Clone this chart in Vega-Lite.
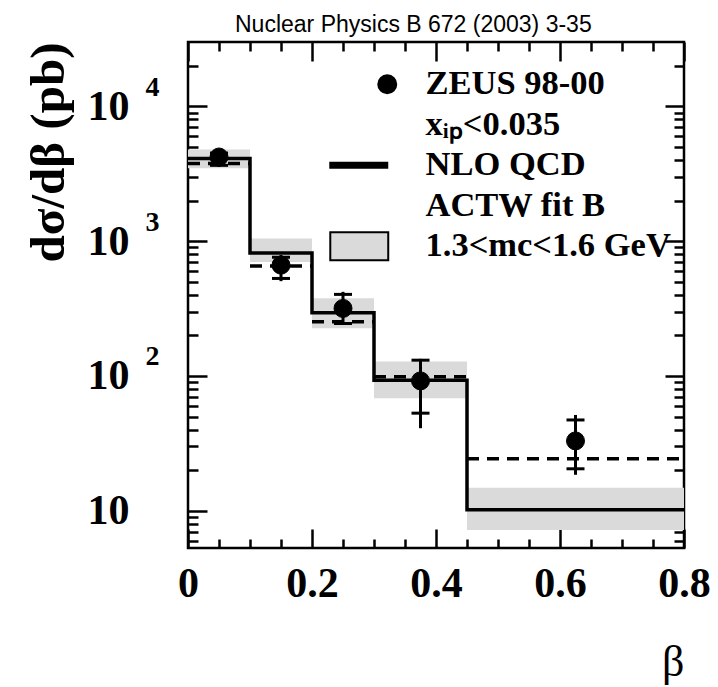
{
  "$schema": "https://vega.github.io/schema/vega-lite/v6.json",
  "width": 496,
  "height": 506,
  "autosize": "none",
  "padding": {"left": 188, "top": 42, "right": 34, "bottom": 139},
  "background": "white",
  "title": {"text": "Nuclear Physics B 672 (2003) 3-35", "font": "Liberation Sans", "fontSize": 23, "fontWeight": "normal", "color": "black", "anchor": "start", "frame": "group", "dx": 47, "baseline": "alphabetic", "offset": -22},
  "datasets": {
    "bins": [
      {"lo": 0, "hi": 0.1, "nlo": 4100, "blo": 3475, "bhi": 4780, "dash": 3770},
      {"lo": 0.1, "hi": 0.2, "nlo": 818, "blo": 700, "bhi": 1048, "dash": 653},
      {"lo": 0.2, "hi": 0.3, "nlo": 294, "blo": 226, "bhi": 377, "dash": 252},
      {"lo": 0.3, "hi": 0.45, "nlo": 93, "blo": 68.4, "bhi": 128, "dash": 98.9},
      {"lo": 0.45, "hi": 0.8, "nlo": 10.2, "blo": 7.2, "bhi": 14.8, "dash": 24.3}
    ],
    "step": [
      {"x": 0, "y": 4100},
      {"x": 0.1, "y": 818},
      {"x": 0.2, "y": 294},
      {"x": 0.3, "y": 93},
      {"x": 0.45, "y": 10.2},
      {"x": 0.8, "y": 10.2}
    ],
    "pts": [
      {"b": 0.05, "y": 4210, "slo": 3650, "shi": 4500, "tlo": 3550, "thi": 4600, "series": "ZEUS 98-00"},
      {"b": 0.15, "y": 664, "slo": 529, "shi": 760, "tlo": 505, "thi": 790, "series": "ZEUS 98-00"},
      {"b": 0.25, "y": 317, "slo": 245, "shi": 403, "tlo": 239, "thi": 421, "series": "ZEUS 98-00"},
      {"b": 0.375, "y": 92, "slo": 53, "shi": 131, "tlo": 41, "thi": 134, "series": "ZEUS 98-00"},
      {"b": 0.625, "y": 33, "slo": 20.5, "shi": 47.2, "tlo": 18.5, "thi": 51.4, "series": "ZEUS 98-00"}
    ]
  },
  "layer": [
    {
      "data": {"name": "bins"},
      "mark": {"type": "rect", "color": "#dadada"},
      "encoding": {
        "x": {"field": "lo", "type": "quantitative", "scale": {"domain": [0, 0.8], "nice": false, "zero": false},
          "axis": {
            "orient": "bottom",
            "values": [0, 0.05, 0.1, 0.15, 0.2, 0.25, 0.3, 0.35, 0.4, 0.45, 0.5, 0.55, 0.6, 0.65, 0.7, 0.75, 0.8],
            "domain": false, "grid": false,
            "tickSize": {"condition": {"test": "abs(datum.value*5 - round(datum.value*5)) < 0.001", "value": -19}, "value": -9},
            "tickWidth": 2.5, "tickColor": "black",
            "labelExpr": "abs(datum.value*5 - round(datum.value*5)) < 0.001 ? (datum.value < 0.001 ? '0' : format(datum.value, '.1f')) : ''",
            "labelFont": "Liberation Serif", "labelFontWeight": "bold", "labelFontSize": 42, "labelColor": "black",
            "labelBaseline": "alphabetic", "labelPadding": 67, "labelFlush": false, "labelOverlap": false, "labelBound": false,
            "title": "β", "titleFont": "Liberation Serif", "titleFontWeight": "normal", "titleFontSize": 44, "titleColor": "black",
            "titleX": 496, "titleY": 127, "titleAlign": "right", "titleBaseline": "alphabetic", "titleAnchor": "end"
          }},
        "x2": {"field": "hi"},
        "y": {"field": "blo", "type": "quantitative", "scale": {"type": "log", "domain": [5.3, 30000], "nice": false},
          "axis": {
            "orient": "left",
            "values": [6,7,8,9,10,20,30,40,50,60,70,80,90,100,200,300,400,500,600,700,800,900,1000,2000,3000,4000,5000,6000,7000,8000,9000,10000,20000],
            "domain": false, "grid": false,
            "tickSize": {"condition": {"test": "indexof([10,100,1000,10000], datum.value) >= 0", "value": -19}, "value": -10},
            "tickWidth": 2.5, "tickColor": "black",
            "labelExpr": "indexof([10,100,1000,10000], datum.value) >= 0 ? '10' : ''",
            "labelFont": "Liberation Serif", "labelFontWeight": "bold", "labelFontSize": 42, "labelColor": "black",
            "labelAlign": "left", "labelBaseline": "middle", "labelPadding": 120, "labelOverlap": false, "labelBound": false, "labelFlush": false,
            "title": "dσ/dβ (pb)", "titleFont": "Liberation Serif", "titleFontWeight": "bold", "titleFontSize": 49, "titleColor": "black",
            "titleX": -140, "titleY": 0, "titleAlign": "right", "titleBaseline": "middle", "titleAngle": -90
          }},
        "y2": {"field": "bhi"}
      }
    },
    {
      "data": {"name": "bins"},
      "mark": {"type": "rule", "color": "black", "strokeWidth": 3.5, "strokeDash": [12, 8]},
      "encoding": {
        "x": {"field": "lo", "type": "quantitative", "scale": {"domain": [0, 0.8], "nice": false, "zero": false},
          "axis": {
            "orient": "top",
            "values": [0, 0.05, 0.1, 0.15, 0.2, 0.25, 0.3, 0.35, 0.4, 0.45, 0.5, 0.55, 0.6, 0.65, 0.7, 0.75, 0.8],
            "domain": false, "grid": false, "labels": false, "title": null,
            "tickSize": {"condition": {"test": "abs(datum.value*5 - round(datum.value*5)) < 0.001", "value": -19}, "value": -9},
            "tickWidth": 2.5, "tickColor": "black"
          }},
        "x2": {"field": "hi"},
        "y": {"field": "dash", "type": "quantitative", "scale": {"type": "log", "domain": [5.3, 30000], "nice": false},
          "axis": {
            "orient": "right",
            "values": [6,7,8,9,10,20,30,40,50,60,70,80,90,100,200,300,400,500,600,700,800,900,1000,2000,3000,4000,5000,6000,7000,8000,9000,10000,20000],
            "domain": false, "grid": false, "title": null,
            "tickSize": {"condition": {"test": "indexof([10,100,1000,10000], datum.value) >= 0", "value": -19}, "value": -10},
            "tickWidth": 2.5, "tickColor": "black",
            "labelExpr": "datum.value == 10000 ? '4' : datum.value == 1000 ? '3' : datum.value == 100 ? '2' : ''",
            "labelFont": "Liberation Serif", "labelFontWeight": "bold", "labelFontSize": 28, "labelColor": "black",
            "labelAlign": "left", "labelBaseline": "middle", "labelPadding": -520, "labelOffset": -19,
            "labelOverlap": false, "labelBound": false, "labelFlush": false
          }}
      }
    },
    {
      "data": {"name": "step"},
      "mark": {"type": "line", "interpolate": "step-after", "color": "black", "strokeWidth": 3.5},
      "encoding": {
        "x": {"field": "x", "type": "quantitative", "scale": {"domain": [0, 0.8], "nice": false, "zero": false}, "axis": null},
        "y": {"field": "y", "type": "quantitative", "scale": {"type": "log", "domain": [5.3, 30000], "nice": false}, "axis": null}
      }
    },
    {
      "data": {"name": "pts"},
      "mark": {"type": "rule", "color": "black", "strokeWidth": 3},
      "encoding": {
        "x": {"field": "b", "type": "quantitative", "scale": {"domain": [0, 0.8], "nice": false, "zero": false}, "axis": null},
        "y": {"field": "tlo", "type": "quantitative", "scale": {"type": "log", "domain": [5.3, 30000], "nice": false}, "axis": null},
        "y2": {"field": "thi"}
      }
    },
    {
      "data": {"name": "pts"},
      "mark": {"type": "tick", "orient": "horizontal", "color": "black", "size": 18, "thickness": 3, "opacity": 1},
      "encoding": {
        "x": {"field": "b", "type": "quantitative", "scale": {"domain": [0, 0.8], "nice": false, "zero": false}, "axis": null},
        "y": {"field": "slo", "type": "quantitative", "scale": {"type": "log", "domain": [5.3, 30000], "nice": false}, "axis": null}
      }
    },
    {
      "data": {"name": "pts"},
      "mark": {"type": "tick", "orient": "horizontal", "color": "black", "size": 18, "thickness": 3, "opacity": 1},
      "encoding": {
        "x": {"field": "b", "type": "quantitative", "scale": {"domain": [0, 0.8], "nice": false, "zero": false}, "axis": null},
        "y": {"field": "shi", "type": "quantitative", "scale": {"type": "log", "domain": [5.3, 30000], "nice": false}, "axis": null}
      }
    },
    {
      "data": {"name": "pts"},
      "mark": {"type": "point", "filled": true, "size": 324, "opacity": 1, "strokeWidth": 1},
      "encoding": {
        "x": {"field": "b", "type": "quantitative", "scale": {"domain": [0, 0.8], "nice": false, "zero": false}, "axis": null},
        "y": {"field": "y", "type": "quantitative", "scale": {"type": "log", "domain": [5.3, 30000], "nice": false}, "axis": null},
        "shape": {"field": "series", "type": "nominal",
          "scale": {"domain": ["ZEUS 98-00", "xᵢₚ<0.035", "NLO QCD", "ACTW fit B", "1.3<mc<1.6 GeV"],
                    "range": ["circle", "M0,0L0,0", "M-6.33,-0.28H0V0.28H-6.33Z", "M0,0L0,0", "M-6.33,-1.55H0.11V1.55H-6.33Z"]},
          "legend": {"orient": "none", "legendX": 182, "legendY": 25, "title": null, "padding": 0,
            "labelFont": "Liberation Serif", "labelFontWeight": "bold", "labelFontSize": 34.5, "labelColor": "black",
            "labelOffset": 21, "labelLimit": 400, "rowPadding": 5.5, "symbolSize": 324, "symbolStrokeWidth": 2, "symbolOpacity": 1}},
        "fill": {"field": "series", "type": "nominal",
          "scale": {"domain": ["ZEUS 98-00", "xᵢₚ<0.035", "NLO QCD", "ACTW fit B", "1.3<mc<1.6 GeV"],
                    "range": ["black", "transparent", "black", "transparent", "#dadada"]},
          "legend": {"orient": "none", "legendX": 182, "legendY": 25, "title": null, "padding": 0,
            "labelFont": "Liberation Serif", "labelFontWeight": "bold", "labelFontSize": 34.5, "labelColor": "black",
            "labelOffset": 21, "labelLimit": 400, "rowPadding": 5.5, "symbolSize": 324, "symbolStrokeWidth": 2, "symbolOpacity": 1}},
        "stroke": {"field": "series", "type": "nominal",
          "scale": {"domain": ["ZEUS 98-00", "xᵢₚ<0.035", "NLO QCD", "ACTW fit B", "1.3<mc<1.6 GeV"],
                    "range": ["black", "transparent", "black", "transparent", "black"]},
          "legend": {"orient": "none", "legendX": 182, "legendY": 25, "title": null, "padding": 0,
            "labelFont": "Liberation Serif", "labelFontWeight": "bold", "labelFontSize": 34.5, "labelColor": "black",
            "labelOffset": 21, "labelLimit": 400, "rowPadding": 5.5, "symbolSize": 324, "symbolStrokeWidth": 2, "symbolOpacity": 1}}
      }
    }
  ],
  "resolve": {"axis": {"x": "independent", "y": "independent"}},
  "config": {
    "view": {"stroke": "black", "strokeWidth": 2.5},
    "font": "Liberation Serif"
  }
}
